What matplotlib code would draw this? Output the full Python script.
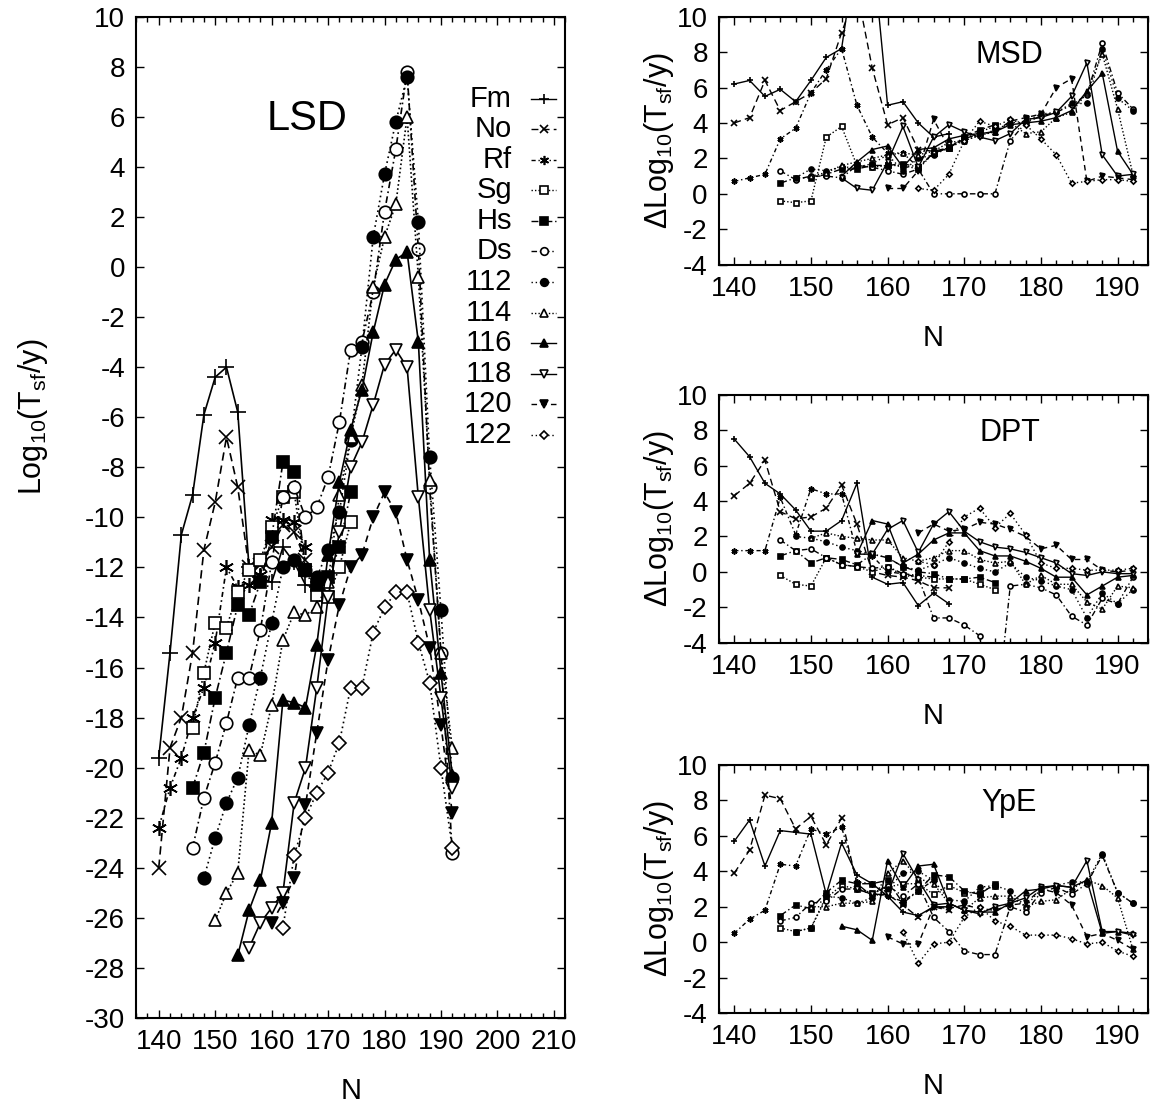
import numpy as np
import matplotlib
matplotlib.use('Agg')
import matplotlib.pyplot as plt
from matplotlib.ticker import MultipleLocator

plt.rcParams['font.family'] = ['Liberation Sans', 'DejaVu Sans']
plt.rcParams['mathtext.fontset'] = 'custom'
plt.rcParams['mathtext.rm'] = 'Liberation Sans'
plt.rcParams['mathtext.it'] = 'Liberation Sans'
plt.rcParams['axes.unicode_minus'] = False

names = ['Fm', 'No', 'Rf', 'Sg', 'Hs', 'Ds', '112', '114', '116', '118', '120', '122']

# ---- LSD: log10 of half-life, N runs in steps of 2 from the first value ----
lsd_first = [140, 140, 140, 146, 146, 146, 148, 150, 154, 156, 160, 162]
lsd_fm = [-19.6, -15.4, -10.7, -9.1, -5.9, -4.4, -4.0, -5.8, -12.0, -12.4, -12.6, -11.2, -11.8, -12.7, -12.8]
lsd_no = [-24.0, -19.2, -18.0, -15.4, -11.3, -9.4, -6.8, -8.8, -12.0, -11.9, -11.2, -10.3, -10.6, -11.7]
lsd_rf = [-22.4, -20.8, -19.6, -18.0, -16.8, -15.0, -12.0, -12.8, -12.7, -12.3, -10.1, -10.1, -10.2, -11.2]
lsd_sg = [-18.4, -16.2, -14.2, -14.4, -13.0, -12.1, -11.7, -10.4, -9.2, -9.0, -12.1, -13.1, -13.2, -12.0, -10.2]
lsd_hs = [-20.8, -19.4, -17.2, -15.4, -13.5, -13.9, -12.6, -10.8, -7.8, -8.2, -12.1, -12.7, -12.4, -11.2, -9.0]
lsd_ds = [-23.2, -21.2, -19.8, -18.2, -16.4, -16.4, -14.5, -11.8, -9.2, -8.8, -10.0, -9.6, -8.4, -6.2,
          -3.3, -3.0, -1.0, 2.2, 4.7, 7.8, 0.7, -8.8, -15.4, -23.4]
lsd_112 = [-24.4, -22.8, -21.4, -20.4, -18.3, -16.4, -14.2, -12.0, -11.7, -12.1, -12.4, -11.3, -9.8, -6.9,
           -3.2, 1.2, 3.7, 5.8, 7.6, 1.8, -7.6, -13.7, -20.4]
lsd_114 = [-26.1, -25.0, -24.2, -19.3, -19.5, -17.5, -14.9, -13.8, -13.9, -13.6, -12.6, -9.1, -6.8, -4.7,
           -0.8, 1.2, 2.5, 6.0, -0.4, -8.5, -15.4, -19.2]
lsd_116 = [-27.5, -25.7, -24.5, -22.2, -17.3, -17.4, -17.6, -15.1, -11.5, -8.6, -6.5, -4.9, -2.6, -0.7,
           0.3, 0.6, -3.0, -11.7, -16.2, -20.3]
lsd_118 = [-27.2, -26.2, -25.6, -25.0, -21.4, -20.0, -16.8, -13.2, -10.6, -8.0, -7.0, -5.5, -3.9, -3.3,
           -4.0, -9.2, -13.7, -17.2, -20.8]
lsd_120 = [-26.2, -25.4, -24.4, -21.5, -18.6, -15.7, -13.5, -12.0, -11.5, -10.0, -9.0, -9.8, -11.7,
           -13.3, -15.2, -18.3, -21.8]
lsd_122 = [-26.4, -23.5, -22.0, -21.0, -20.2, -19.0, -16.8, -16.8, -14.6, -13.6, -13.0, -13.0, -15.0,
           -16.6, -20.0, -23.2]

# ---- MSD differences ----
msd_first = [140, 140, 140, 146, 146, 146, 148, 150, 154, 154, 160, 164]
msd_fm = [6.2, 6.4, 5.5, 5.9, 5.2, 6.4, 7.7, 8.2, 14.0, 14.0, 5.0, 5.2, 4.0, 3.2, 3.4]
msd_no = [4.0, 4.3, 6.4, 4.7, 5.2, 5.7, 6.5, 9.1, 11.5, 7.1, 3.9, 4.3, 2.5, 2.4, 2.6]
msd_rf = [0.7, 0.9, 1.1, 3.1, 3.7, 5.7, 7.0, 8.2, 5.0, 3.2, 2.3, 2.3, 1.5, 2.3, 2.6]
msd_sg = [-0.4, -0.5, -0.4, 3.2, 3.8, 1.6, 1.5, 1.6, 1.6, 1.4, 2.3, 2.6, 3.1, 3.5, 3.8]
msd_hs = [0.6, 0.9, 0.9, 1.1, 1.4, 1.4, 1.6, 1.6, 1.7, 1.5, 2.3, 2.6, 3.2, 3.6, 3.9]
msd_ds = [1.3, 0.8, 1.0, 1.0, 0.9, 1.6, 1.5, 1.3, 1.1, 1.4, 0.0, 0.0, 0.0, 0.0, 0.0,
          3.0, 4.0, 4.4, 4.6, 5.0, 5.6, 8.5, 5.7, 4.8]
msd_112 = [0.9, 1.4, 1.3, 1.5, 1.5, 1.7, 2.2, 1.3, 2.0, 2.2, 2.6, 3.0, 3.3, 3.6, 4.0, 4.1,
           4.5, 4.6, 5.1, 5.1, 8.2, 5.4, 4.7]
msd_114 = [1.0, 1.2, 1.6, 1.8, 2.0, 2.2, 2.3, 2.2, 2.4, 2.9, 3.0, 3.3, 3.5, 4.0, 3.4, 3.5,
           4.3, 4.6, 5.7, 7.9, 4.8, 1.1]
msd_116 = [1.0, 1.8, 2.5, 2.7, 1.5, 2.5, 2.6, 3.1, 3.3, 3.4, 3.5, 3.9, 4.0, 4.1, 4.3, 4.7,
           5.8, 6.8, 2.4, 1.1]
msd_118 = [0.9, 0.3, 0.2, 1.8, 3.8, 1.5, 3.2, 3.9, 3.5, 3.2, 3.0, 3.4, 4.2, 4.3, 4.6, 5.5,
           7.4, 2.2, 1.0, 1.1]
msd_120 = [0.3, 0.3, 1.3, 4.2, 2.6, 3.1, 3.4, 3.5, 4.1, 4.3, 4.5, 6.0, 6.5, 0.7, 1.0, 0.9, 0.8]
msd_122 = [0.3, 0.2, 1.1, 3.0, 4.1, 3.8, 4.2, 3.9, 3.1, 2.2, 0.6, 0.7, 0.8, 0.8, 0.7]

# ---- DPT differences ----
dpt_first = [140, 140, 140, 146, 146, 146, 148, 150, 156, 156, 164, 164]
dpt_fm = [7.5, 6.5, 5.0, 4.4, 3.5, 2.3, 2.3, 2.9, 5.0, -0.3, -0.7, -0.6, -1.9, -1.2, -1.8]
dpt_no = [4.3, 5.0, 6.3, 3.4, 3.0, 3.1, 3.6, 4.9, 2.7, 0.0, -0.2, -0.3, -0.5, -0.9, -0.9]
dpt_rf = [1.2, 1.2, 1.2, 4.2, 2.1, 4.7, 4.4, 4.4, 1.1, 0.9, 0.0, -0.1, -0.2, -0.3]
dpt_sg = [-0.2, -0.7, -0.8, 0.8, 0.4, 0.3, 0.0, 0.3, -0.2, -0.3, -0.4, -0.4, -0.4, -0.7, -1.0]
dpt_hs = [0.9, 1.2, 0.5, 0.8, 0.7, 0.4, 1.0, 0.8, 0.3, 0.0, -0.1, -0.4, -0.4, -0.3, -0.6]
dpt_ds = [1.8, 1.2, 1.3, 0.8, 0.4, 0.3, 0.2, 0.3, -0.1, -0.3, -2.6, -2.6, -3.0, -3.6, -9.0,
          -0.8, -0.7, -0.9, -1.3, -2.5, -3.0, -1.5, -1.8, -0.3]
dpt_112 = [2.0, 1.9, 1.7, 1.4, 1.2, 1.0, 0.8, 0.3, 0.1, 0.4, 0.8, 0.5, 0.2, 0.0, 0.5, -0.3,
           -0.5, -0.8, -1.0, -2.6, -1.2, -1.8, -1.0]
dpt_114 = [1.9, 2.2, 2.0, 1.9, 1.8, 1.8, 0.8, 0.6, 0.8, 1.2, 1.2, 0.7, 0.5, 0.6, -0.7, -0.2,
           -0.7, -0.7, -1.7, -2.1, -0.8, -0.9]
dpt_116 = [1.0, 2.9, 2.7, 0.5, 1.0, 1.8, 2.2, 2.2, 1.2, 0.9, 0.9, 0.6, 0.2, -0.3, -0.3, -1.3,
           -0.8, -0.3, -0.2]
dpt_118 = [1.0, 1.0, 2.4, 2.9, 1.1, 2.7, 3.4, 2.3, 1.7, 1.4, 1.3, 1.1, 0.8, 0.5, -0.1, -0.2,
           0.0, -0.1, -0.1]
dpt_120 = [2.2, 2.7, 2.3, 2.4, 2.8, 2.7, 2.4, 2.0, 1.3, 1.5, 0.7, 0.7, 0.1, 0.0, 0.1]
dpt_122 = [0.6, 0.4, 1.7, 3.1, 3.6, 2.5, 3.3, 2.1, 0.5, 0.2, 0.2, 0.1, 0.1, 0.1, 0.2]

# ---- YpE differences ----
ype_first = [140, 140, 140, 146, 146, 146, 148, 150, 154, 156, 160, 162]
ype_fm = [5.7, 6.9, 4.3, 6.3, 6.2, 6.1, 2.7, 5.6, 3.8, 3.3, 2.6, 1.7, 1.5, 2.0, 2.0]
ype_no = [3.9, 5.2, 8.3, 8.1, 6.4, 7.1, 5.5, 7.0, 3.3, 2.6, 2.7, 2.1, 1.4, 2.0, 1.8]
ype_rf = [0.5, 1.3, 1.8, 4.4, 4.3, 6.4, 6.1, 6.5, 3.4, 3.3, 2.6, 2.3, 2.9, 3.5]
ype_sg = [0.8, 0.6, 0.8, 2.5, 3.2, 3.0, 2.8, 3.1, 3.3, 3.3, 2.7, 3.2, 2.8, 2.8, 3.2]
ype_hs = [1.5, 2.1, 1.9, 2.8, 3.5, 3.3, 3.3, 3.5, 2.2, 2.9, 3.8, 3.7, 2.9, 2.7, 3.3]
ype_ds = [1.2, 1.4, 2.2, 2.3, 3.0, 3.0, 2.7, 3.2, 2.6, 3.3, 1.4, 0.6, -0.5, -0.7, -0.7,
          2.0, 1.7, 2.8, 3.1, 2.7, 3.3, 4.9, 2.8, 2.2]
ype_112 = [0.6, 0.8, 2.6, 2.5, 2.2, 2.5, 3.0, 3.9, 4.0, 3.5, 2.4, 2.3, 3.1, 3.2, 2.9, 2.0,
           3.0, 3.2, 3.4, 3.4, 5.0, 2.8, 2.2]
ype_114 = [2.0, 2.0, 2.2, 2.2, 2.3, 3.9, 4.6, 3.6, 3.3, 2.2, 1.8, 2.5, 2.6, 2.6, 2.0, 2.3,
           2.4, 3.0, 3.5, 3.2, 2.5, -0.4]
ype_116 = [0.9, 0.7, 0.1, 4.6, 3.1, 4.3, 4.4, 2.2, 1.8, 1.7, 1.7, 2.2, 2.9, 3.0, 3.2, 3.1,
           3.5, 0.5, 0.6, 0.5]
ype_118 = [3.0, 2.7, 2.7, 5.0, 3.5, 2.1, 2.2, 1.8, 1.6, 2.0, 2.2, 2.5, 3.1, 3.2, 3.1, 4.6,
           0.6, 0.6, 0.4]
ype_120 = [0.3, -0.1, -0.1, 2.0, 1.9, 2.1, 1.9, 1.8, 2.1, 2.2, 3.0, 2.8, 2.1, 0.3, 0.5, 0.1, -0.4]
ype_122 = [0.6, -1.2, -0.1, 0.0, 1.4, 2.0, 1.2, 0.9, 0.4, 0.4, 0.4, 0.2, -0.1, 0.0, -0.5, -0.8]

lsd = [lsd_fm, lsd_no, lsd_rf, lsd_sg, lsd_hs, lsd_ds, lsd_112, lsd_114, lsd_116, lsd_118, lsd_120, lsd_122]
msd = [msd_fm, msd_no, msd_rf, msd_sg, msd_hs, msd_ds, msd_112, msd_114, msd_116, msd_118, msd_120, msd_122]
dpt = [dpt_fm, dpt_no, dpt_rf, dpt_sg, dpt_hs, dpt_ds, dpt_112, dpt_114, dpt_116, dpt_118, dpt_120, dpt_122]
ype = [ype_fm, ype_no, ype_rf, ype_sg, ype_hs, ype_ds, ype_112, ype_114, ype_116, ype_118, ype_120, ype_122]

# marker, filled?, linestyle, relative marker size
styles = [('+', True, '-', 1.3),
          ('x', True, (0, (5, 3)), 1.1),
          ((6, 2, 0), True, (0, (3, 2, 1, 2)), 1.2),
          ('s', False, (0, (1, 1.5)), 1.0),
          ('s', True, (0, (5, 2, 1, 2)), 1.0),
          ('o', False, (0, (4, 2, 1, 2)), 1.0),
          ('o', True, (0, (1, 2)), 1.0),
          ('^', False, (0, (1, 1.5)), 1.0),
          ('^', True, '-', 1.0),
          ('v', False, '-', 1.0),
          ('v', True, (0, (4, 3)), 1.0),
          ('D', False, (0, (1, 2)), 0.75)]


def line_kw(i, ms, lw):
    mk, filled, ls, rel = styles[i]
    return dict(color='black', linestyle=ls, linewidth=lw, marker=mk,
                markersize=ms * rel, markerfacecolor='black' if filled else 'white',
                markeredgecolor='black', markeredgewidth=1.2)


def draw(ax, firsts, series, ms, lw):
    for i, (vals, n0) in enumerate(zip(series, firsts)):
        nn = n0 + 2 * np.arange(len(vals))
        ax.plot(nn, vals, **line_kw(i, ms, lw))


def style_axes(ax, xlim, ylim, xmajor):
    ax.set_xlim(*xlim)
    ax.set_ylim(*ylim)
    ax.xaxis.set_major_locator(MultipleLocator(xmajor))
    ax.xaxis.set_minor_locator(MultipleLocator(2))
    ax.yaxis.set_major_locator(MultipleLocator(2))
    ax.tick_params(which='both', direction='in', top=True, right=True, labelsize=20)
    ax.tick_params(which='major', length=6, width=1.0, pad=8)
    ax.tick_params(which='minor', length=3.5, width=1.0)
    for sp in ax.spines.values():
        sp.set_linewidth(1.5)
    ax.set_xlabel('N', fontsize=21, labelpad=16)


fig = plt.figure(figsize=(11.54, 11.12), dpi=100)

ax0 = fig.add_axes([0.118, 0.0845, 0.3717, 0.9005])
draw(ax0, lsd_first, lsd, 9, 1.2)
style_axes(ax0, (136, 212), (-30, 10), 10)
ax0.set_ylabel('Log$_{10}$(T$_{sf}$/y)', fontsize=22)
ax0.yaxis.set_label_coords(-0.2, 0.6)
ax0.text(166.3, 5.9, 'LSD', fontsize=30, ha='center', va='center')

# key: labels right-aligned, short sample line with marker to the right
key_top, key_step = 0.918, 0.0305
for i, name in enumerate(names):
    yk = key_top - i * key_step
    ax0.text(0.876, yk, name, transform=ax0.transAxes, ha='right', va='center', fontsize=21)
    ax0.plot([0.921, 0.950, 0.979], [yk, yk, yk], transform=ax0.transAxes, markevery=[1],
             clip_on=False, **line_kw(i, 5.5, 1.0))

panels = [(msd_first, msd, 'MSD', 0.985), (dpt_first, dpt, 'DPT', 0.645), (ype_first, ype, 'YpE', 0.312)]
for firsts, series, title, top in panels:
    ax = fig.add_axes([0.623, top - 0.223, 0.372, 0.223])
    draw(ax, firsts, series, 3.6, 1.0)
    style_axes(ax, (138, 194), (-4, 10), 10)
    ax.set_ylabel('$\\Delta$Log$_{10}$(T$_{sf}$/y)', fontsize=22)
    ax.yaxis.set_label_coords(-0.1, 0.5)
    ax.text(175.9, 7.85, title, fontsize=22, ha='center', va='center')

fig.savefig('out.png', dpi=100)
